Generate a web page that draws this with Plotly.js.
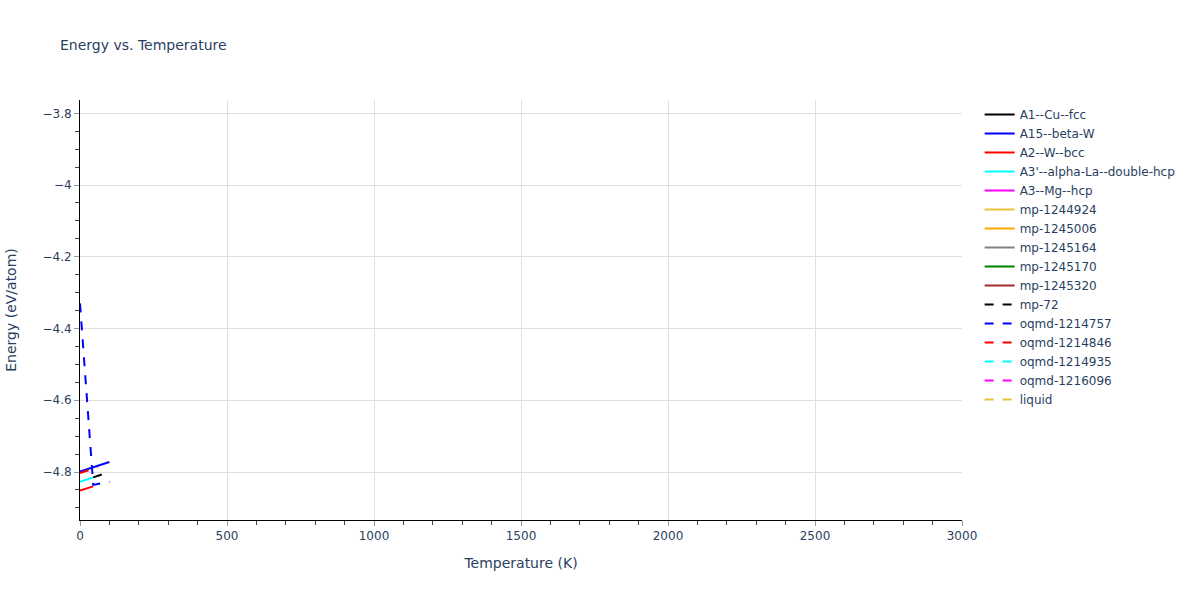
<!DOCTYPE html>
<html>
<head>
<meta charset="utf-8">
<script src="https://cdn.plot.ly/plotly-3.0.1.min.js"></script>
<style>html,body{margin:0;padding:0;background:#fff;}</style>
</head>
<body>
<div id="chart" style="width:1200px;height:600px;"></div>
<script>
// Series names (legend order)
const seriesNames = [
  "A1--Cu--fcc", "A15--beta-W", "A2--W--bcc", "A3'--alpha-La--double-hcp", "A3--Mg--hcp",
  "mp-1244924", "mp-1245006", "mp-1245164", "mp-1245170", "mp-1245320",
  "mp-72", "oqmd-1214757", "oqmd-1214846", "oqmd-1214935", "oqmd-1216096", "liquid"
];
const seriesColors = [
  "black", "blue", "red", "cyan", "magenta",
  "#e8c13a", "orange", "gray", "green", "brown",
  "black", "blue", "red", "cyan", "magenta", "#e8c13a"
];
const seriesDash = [
  "solid", "solid", "solid", "solid", "solid",
  "solid", "solid", "solid", "solid", "solid",
  "dash", "dash", "dash", "dash", "dash", "dash"
];

// Temperature (K) and energy (eV/atom) per series.
// Series that draw no visible line in the reference hold a single point.
const temp_A1_Cu_fcc = [0];
const energy_A1_Cu_fcc = [-4.80];
const temp_A15_beta_W = [0, 100];
const energy_A15_beta_W = [-4.799, -4.772];
const temp_A2_W_bcc = [0, 45];
const energy_A2_W_bcc = [-4.852, -4.840];
const temp_A3p_alpha_La = [0, 45];
const energy_A3p_alpha_La = [-4.827, -4.815];
const temp_A3_Mg_hcp = [0];
const energy_A3_Mg_hcp = [-4.80];
const temp_mp_1244924 = [0];
const energy_mp_1244924 = [-4.80];
const temp_mp_1245006 = [0];
const energy_mp_1245006 = [-4.80];
const temp_mp_1245164 = [0];
const energy_mp_1245164 = [-4.80];
const temp_mp_1245170 = [0];
const energy_mp_1245170 = [-4.80];
const temp_mp_1245320 = [0];
const energy_mp_1245320 = [-4.80];
const temp_mp_72 = [45, 100];
const energy_mp_72 = [-4.815, -4.800];
const temp_oqmd_1214757 = [0, 45, 100];
const energy_oqmd_1214757 = [-4.33, -4.836, -4.827];
const temp_oqmd_1214846 = [0, 60];
const energy_oqmd_1214846 = [-4.803, -4.787];
const temp_oqmd_1214935 = [0];
const energy_oqmd_1214935 = [-4.80];
const temp_oqmd_1216096 = [0];
const energy_oqmd_1216096 = [-4.80];
const temp_liquid = [0];
const energy_liquid = [-4.80];

const temps = [temp_A1_Cu_fcc, temp_A15_beta_W, temp_A2_W_bcc, temp_A3p_alpha_La, temp_A3_Mg_hcp,
  temp_mp_1244924, temp_mp_1245006, temp_mp_1245164, temp_mp_1245170, temp_mp_1245320,
  temp_mp_72, temp_oqmd_1214757, temp_oqmd_1214846, temp_oqmd_1214935, temp_oqmd_1216096, temp_liquid];
const energies = [energy_A1_Cu_fcc, energy_A15_beta_W, energy_A2_W_bcc, energy_A3p_alpha_La, energy_A3_Mg_hcp,
  energy_mp_1244924, energy_mp_1245006, energy_mp_1245164, energy_mp_1245170, energy_mp_1245320,
  energy_mp_72, energy_oqmd_1214757, energy_oqmd_1214846, energy_oqmd_1214935, energy_oqmd_1216096, energy_liquid];

const traces = seriesNames.map((name, i) => ({
  type: "scatter",
  mode: "lines",
  name: name,
  x: temps[i],
  y: energies[i],
  line: {color: seriesColors[i], dash: seriesDash[i], width: 2}
}));

const layout = {
  width: 1200,
  height: 600,
  margin: {l: 80, r: 238, t: 100, b: 80},
  font: {family: "DejaVu Sans, Verdana, sans-serif", size: 12, color: "#2a3f5f"},
  title: {text: "Energy vs. Temperature", font: {size: 14}, x: 0.05, xanchor: "left"},
  paper_bgcolor: "white",
  plot_bgcolor: "white",
  xaxis: {
    title: {text: "Temperature (K)", font: {size: 14}, standoff: 15},
    range: [0, 3000],
    dtick: 500,
    showline: true, linecolor: "black", linewidth: 1,
    ticks: "outside", ticklen: 5, tickcolor: "#999",
    gridcolor: "#e0e0e0", zeroline: false,
    minor: {dtick: 100, ticks: "outside", ticklen: 4, tickcolor: "#444", showgrid: false}
  },
  yaxis: {
    title: {text: "Energy (eV/atom)", font: {size: 14}, standoff: 22},
    range: [-4.9338, -3.7629],
    dtick: 0.2,
    showline: true, linecolor: "black", linewidth: 1,
    ticks: "outside", ticklen: 5, tickcolor: "#999",
    gridcolor: "#e0e0e0", zeroline: false,
    minor: {dtick: 0.05, ticks: "outside", ticklen: 4, tickcolor: "#444", showgrid: false}
  },
  legend: {font: {size: 12}},
  showlegend: true
};

Plotly.newPlot("chart", traces, layout, {displayModeBar: false});
</script>
</body>
</html>
